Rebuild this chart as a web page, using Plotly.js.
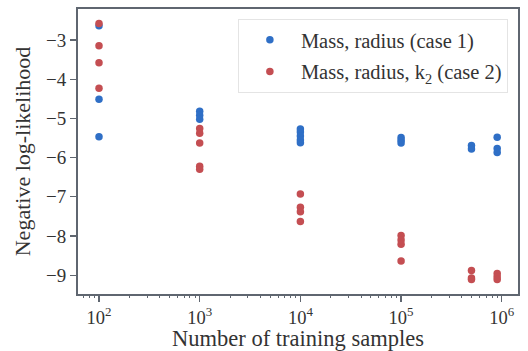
<!DOCTYPE html>
<html>
<head>
<meta charset="utf-8">
<script src="https://cdn.plot.ly/plotly-3.0.1.min.js"></script>
<style>html,body{margin:0;padding:0;background:#fff;}#chart{width:528px;height:351px;}</style>
</head>
<body>
<div id="chart"></div>
<script>
// Data
const samplesCase1 = [100,100,100, 1000,1000,1000, 10000,10000,10000,10000,10000, 100000,100000,100000, 500000,500000, 900000,900000,900000];
const nllCase1 = [-2.64,-4.51,-5.47, -4.82,-4.92,-5.02, -5.27,-5.35,-5.45,-5.55,-5.62, -5.49,-5.56,-5.63, -5.69,-5.78, -5.48,-5.77,-5.87];
const samplesCase2 = [100,100,100,100, 1000,1000,1000,1000,1000, 10000,10000,10000,10000, 100000,100000,100000,100000, 500000,500000,500000, 900000,900000,900000];
const nllCase2 = [-2.58,-3.15,-3.58,-4.23, -5.26,-5.38,-5.63,-6.22,-6.30, -6.93,-7.27,-7.38,-7.63, -7.99,-8.10,-8.21,-8.64, -8.88,-9.07,-9.11, -8.96,-9.04,-9.11];
const xTickVals = [100,1000,10000,100000,1000000];
const xTickText = ['10<sup>2</sup>','10<sup>3</sup>','10<sup>4</sup>','10<sup>5</sup>','10<sup>6</sup>'];
const yTickVals = [-3,-4,-5,-6,-7,-8,-9];
const yTickText = ['−3','−4','−5','−6','−7','−8','−9'];
const seriesNames = ['Mass, radius (case 1)', 'Mass, radius, k<sub>2</sub> (case 2)'];

// minor tick positions on the log axis (2..9 times each decade)
const minorVals = [];
for (let d = 1; d <= 6; d++) for (let m = 2; m <= 9; m++) minorVals.push(m * Math.pow(10, d));

const spine = '#5f6670';
const fontFam = '"Liberation Serif", "DejaVu Serif", serif';
const xRange = [1.7915, 6.161];

const traces = [
  {x: samplesCase1, y: nllCase1, mode:'markers', type:'scatter', name: seriesNames[0], legendgroup:'a',
   marker:{color:'#2f6fc6', size:7.5}},
  {x: samplesCase2, y: nllCase2, mode:'markers', type:'scatter', name: seriesNames[1], legendgroup:'b',
   marker:{color:'#c44e52', size:7.5}},
  {x: [1000], y: [-6], xaxis:'x2', mode:'markers', type:'scatter', showlegend:false,
   marker:{opacity:0, size:1}, hoverinfo:'skip'}
];

const layout = {
  width:528, height:351,
  margin:{l:78, r:10, t:9, b:57},
  paper_bgcolor:'#fff', plot_bgcolor:'#fff',
  font:{family:fontFam, color:'#333', size:18},
  showlegend:true,
  legend:{x:0.977, y:0.965, xanchor:'right', yanchor:'top', bgcolor:'rgba(255,255,255,0.8)',
    bordercolor:'#e4e4e4', borderwidth:1, font:{family:fontFam, size:20.5, color:'#333'},
    itemwidth:52, tracegroupgap:2},
  xaxis:{type:'log', range:xRange, tickvals:xTickVals, ticktext:xTickText,
    showgrid:false, zeroline:false, showline:true, linecolor:spine, linewidth:2, mirror:true,
    ticks:'outside', ticklen:6, tickwidth:1.2, tickcolor:spine,
    tickfont:{family:fontFam, size:18.5, color:'#333'},
    title:{text:'Number of training samples', font:{family:fontFam, size:22.5, color:'#333'}, standoff:7}},
  xaxis2:{type:'log', range:xRange, overlaying:'x', anchor:'y', side:'bottom',
    tickvals:minorVals, showticklabels:false, showgrid:false, zeroline:false, showline:false,
    ticks:'outside', ticklen:3, tickwidth:1, tickcolor:spine},
  yaxis:{range:[-9.48, -2.21], tickvals:yTickVals, ticktext:yTickText,
    showgrid:false, zeroline:false, showline:true, linecolor:spine, linewidth:2, mirror:true,
    ticks:'outside', ticklen:6, tickwidth:1.2, tickcolor:spine,
    tickfont:{family:fontFam, size:19, color:'#333'},
    title:{text:'Negative log-likelihood', font:{family:fontFam, size:22, color:'#333'}, standoff:9}}
};

Plotly.newPlot('chart', traces, layout, {staticPlot:true, displayModeBar:false});
</script>
</body>
</html>
